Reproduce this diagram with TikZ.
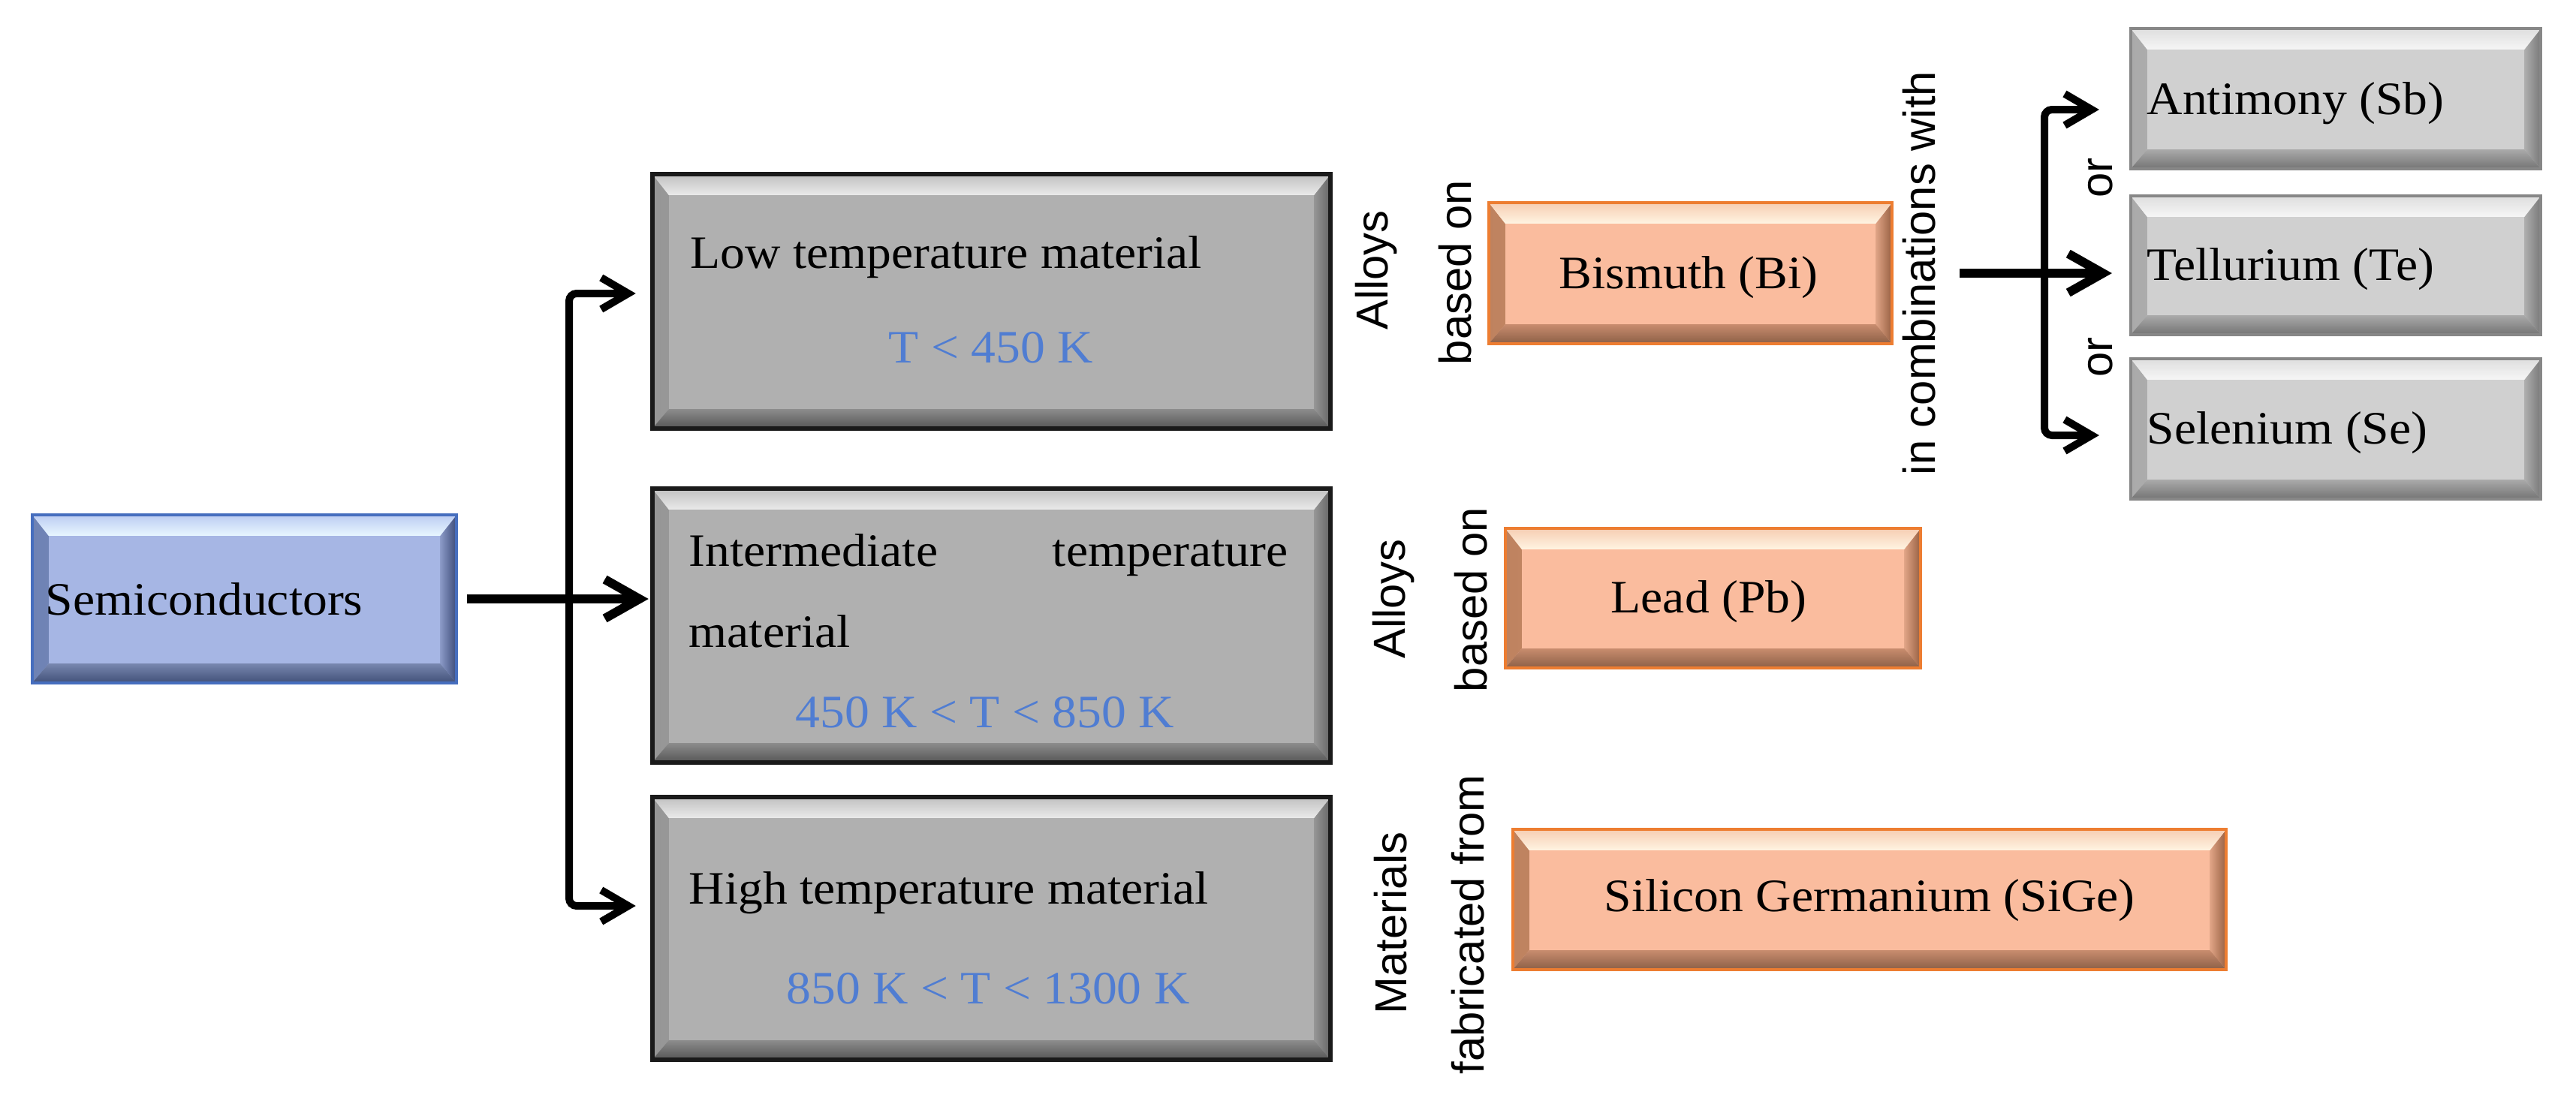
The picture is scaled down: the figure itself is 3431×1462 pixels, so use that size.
\documentclass[tikz,border=0pt]{standalone}
\usepackage{fontspec}
\setmainfont{Liberation Serif}[FakeStretch=1.06]
\setsansfont{Liberation Sans}
\usetikzlibrary{arrows.meta}
% big gray
\definecolor{gb-base}{RGB}{176,176,176}
\definecolor{gb-to}{RGB}{192,192,192}
\definecolor{gb-ti}{RGB}{234,234,234}
\definecolor{gb-lo}{RGB}{150,150,150}
\definecolor{gb-li}{RGB}{190,190,190}
\definecolor{gb-ri}{RGB}{150,150,150}
\definecolor{gb-ro}{RGB}{100,100,100}
\definecolor{gb-bi}{RGB}{140,140,140}
\definecolor{gb-bo}{RGB}{85,85,85}
\definecolor{gb-border}{RGB}{26,26,26}
% small gray
\definecolor{gs-base}{RGB}{208,208,208}
\definecolor{gs-to}{RGB}{222,222,222}
\definecolor{gs-ti}{RGB}{246,246,246}
\definecolor{gs-lo}{RGB}{170,170,170}
\definecolor{gs-li}{RGB}{215,215,215}
\definecolor{gs-ri}{RGB}{175,175,175}
\definecolor{gs-ro}{RGB}{120,120,120}
\definecolor{gs-bi}{RGB}{170,170,170}
\definecolor{gs-bo}{RGB}{115,115,115}
\definecolor{gs-border}{RGB}{135,135,135}
% orange
\definecolor{ob-base}{RGB}{250,188,158}
\definecolor{ob-to}{RGB}{246,205,178}
\definecolor{ob-ti}{RGB}{255,244,226}
\definecolor{ob-lo}{RGB}{190,130,95}
\definecolor{ob-li}{RGB}{240,180,150}
\definecolor{ob-ri}{RGB}{225,165,135}
\definecolor{ob-ro}{RGB}{150,95,65}
\definecolor{ob-bi}{RGB}{200,140,110}
\definecolor{ob-bo}{RGB}{140,95,70}
\definecolor{ob-border}{RGB}{237,125,49}
% blue
\definecolor{bb-base}{RGB}{166,182,228}
\definecolor{bb-to}{RGB}{188,204,242}
\definecolor{bb-ti}{RGB}{232,246,255}
\definecolor{bb-lo}{RGB}{110,130,180}
\definecolor{bb-li}{RGB}{160,176,222}
\definecolor{bb-ri}{RGB}{140,155,200}
\definecolor{bb-ro}{RGB}{60,75,120}
\definecolor{bb-bi}{RGB}{120,135,175}
\definecolor{bb-bo}{RGB}{65,80,120}
\definecolor{bb-border}{RGB}{70,110,190}
\definecolor{bluetxt}{RGB}{80,125,210}

\tikzset{
  bevelbox/.style={draw=#1-border, fill=#1-base, inner sep=0pt, rectangle,
    path picture={
      \shade[left color=#1-lo, right color=#1-li]
        (path picture bounding box.north west)
        -- ([xshift=2.2mm,yshift=-2.8mm]path picture bounding box.north west)
        -- ([xshift=2.2mm,yshift=2.6mm]path picture bounding box.south west)
        -- (path picture bounding box.south west) -- cycle;
      \shade[left color=#1-ri, right color=#1-ro]
        (path picture bounding box.north east)
        -- ([xshift=-2.2mm,yshift=-2.8mm]path picture bounding box.north east)
        -- ([xshift=-2.2mm,yshift=2.6mm]path picture bounding box.south east)
        -- (path picture bounding box.south east) -- cycle;
      \shade[top color=#1-to, bottom color=#1-ti]
        (path picture bounding box.north west)
        -- (path picture bounding box.north east)
        -- ([xshift=-2.2mm,yshift=-2.8mm]path picture bounding box.north east)
        -- ([xshift=2.2mm,yshift=-2.8mm]path picture bounding box.north west) -- cycle;
      \shade[top color=#1-bi, bottom color=#1-bo]
        (path picture bounding box.south west)
        -- (path picture bounding box.south east)
        -- ([xshift=-2.2mm,yshift=2.6mm]path picture bounding box.south east)
        -- ([xshift=2.2mm,yshift=2.6mm]path picture bounding box.south west) -- cycle;
    }},
  gbig/.style={bevelbox=gb, line width=1.7pt},
  gsmall/.style={bevelbox=gs, line width=1.1pt},
  orbox/.style={bevelbox=ob, line width=1.1pt},
  blbox/.style={bevelbox=bb, line width=1.1pt},
  stxt/.style={inner sep=0pt, font=\fontsize{17.6}{21}\selectfont},
  btxt/.style={stxt, text=bluetxt},
  rtxt/.style={inner sep=0pt, rotate=90, font=\sffamily\fontsize{17}{20}\selectfont},
  arr/.style={line width=2.85pt, -{Straight Barb[length=3.6mm,width=4.2mm]}},
  mainarr/.style={line width=3.4pt, -{Straight Barb[length=4.6mm,width=5.2mm]}},
}

\begin{document}
\begin{tikzpicture}[x=0.01cm, y=-0.01cm]
\useasboundingbox (0,0) rectangle (3431,1462);
\fill[white] (0,0) rectangle (3431,1462);

% boxes
\node[blbox, minimum width=5.65cm, minimum height=2.24cm] (semi) at (325.5,798) {};
\node[gbig, minimum width=9.03cm, minimum height=3.39cm] (low) at (1320.5,401.5) {};
\node[gbig, minimum width=9.03cm, minimum height=3.65cm] (inter) at (1320.5,833.5) {};
\node[gbig, minimum width=9.03cm, minimum height=3.50cm] (high) at (1320.5,1237) {};
\node[orbox, minimum width=5.37cm, minimum height=1.88cm] (bi) at (2251.5,364) {};
\node[orbox, minimum width=5.53cm, minimum height=1.86cm] (lead) at (2281.5,797) {};
\node[orbox, minimum width=9.50cm, minimum height=1.87cm] (sige) at (2490,1198.5) {};
\node[gsmall, minimum width=5.46cm, minimum height=1.87cm] (sb) at (3111,131.5) {};
\node[gsmall, minimum width=5.46cm, minimum height=1.85cm] (te) at (3111,353.5) {};
\node[gsmall, minimum width=5.46cm, minimum height=1.87cm] (se) at (3111,571.5) {};

% texts in boxes
\node[stxt, anchor=base west] (semit) at (60,819) {Semiconductors};
\node[stxt, anchor=base west] (lowt) at (919,357) {Low temperature material};
\node[btxt, anchor=base] (lowr) at (1320,483) {T < 450 K};
\node[stxt, anchor=base west] (intert) at (917,754) {\makebox[7.97cm][l]{Intermediate\hfill temperature}};
\node[stxt, anchor=base west] (intert2) at (917,862) {material};
\node[btxt, anchor=base] (interr) at (1312,969) {450 K < T < 850 K};
\node[stxt, anchor=base west] (hight) at (917,1204) {High temperature material};
\node[btxt, anchor=base] (highr) at (1316,1337) {850 K < T < 1300 K};
\node[stxt, anchor=base] (bit) at (2249,384) {Bismuth (Bi)};
\node[stxt, anchor=base] (leadt) at (2276,816) {Lead (Pb)};
\node[stxt, anchor=base] (siget) at (2490,1214) {Silicon Germanium (SiGe)};
\node[stxt, anchor=base west] (sbt) at (2859,152) {Antimony (Sb)};
\node[stxt, anchor=base west] (tet) at (2859,373) {Tellurium (Te)};
\node[stxt, anchor=base west] (sett) at (2859,591) {Selenium (Se)};

% rotated labels
\node[rtxt] (a1) at (1833,360) {Alloys};
\node[rtxt] (b1) at (1938,363) {based on};
\node[rtxt] (a2) at (1856,798) {Alloys};
\node[rtxt] (b2) at (1959,799) {based on};
\node[rtxt] (m3) at (1852,1230) {Materials};
\node[rtxt] (f3) at (1955,1232) {fabricated from};
\node[rtxt] (comb) at (2556,364) {in combinations with};
\node[rtxt] (or1) at (2798,237) {or};
\node[rtxt] (or2) at (2798,476) {or};

% connectors left
\coordinate (j1) at (758,798);
\draw[arr, rounded corners=1mm, shorten >=1.9mm] (j1) |- ([yshift=1.05mm]low.west);
\draw[arr, rounded corners=1mm, shorten >=1.9mm] (j1) |- ([yshift=3mm]high.west);
\draw[mainarr, shorten <=1.2mm, shorten >=0.2mm] (semi.east) -- (semi.east -| inter.west);

% connectors right
\coordinate (j2) at (2723,364);
\draw[arr, rounded corners=1mm, shorten >=4mm] (j2) |- ([yshift=-1.45mm]sb.west);
\draw[arr, rounded corners=1mm, shorten >=4mm] (j2) |- ([yshift=-0.85mm]se.west);
\draw[mainarr, shorten <=8.8mm, shorten >=2.3mm] (bi.east) -- (bi.east -| te.west);
\end{tikzpicture}
\end{document}
